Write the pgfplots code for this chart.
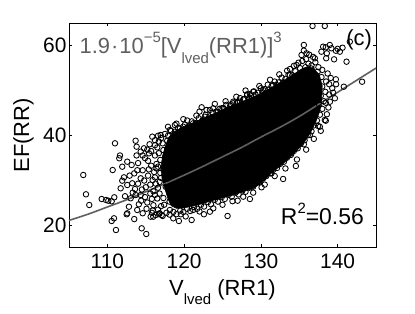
\documentclass[border=0pt]{standalone}
\usepackage{fontspec}
\setmainfont{Liberation Sans}
\usepackage{pgfplots}
\pgfplotsset{compat=1.18}
\usetikzlibrary{calc}
\definecolor{curvegray}{RGB}{95,95,95}
\newcommand{\bigf}{\fontsize{22}{26}\selectfont}
\newcommand{\tickf}{\fontsize{21}{25}\selectfont}
\newcommand{\supf}{\fontsize{15}{17}\selectfont}
\begin{document}
\begin{tikzpicture}
\begin{axis}[name=ax, width=307bp, height=224bp, scale only axis,
 xmin=105, xmax=145, ymin=15, ymax=65,
 xtick={110,120,130,140}, ytick={20,40,60},
 tick align=inside, major tick length=3bp,
 axis line style={line width=0.5bp},
 every tick/.style={black, line width=0.5bp},
 /pgf/number format/assume math mode=true,
 tick label style={font=\tickf},
 xticklabel style={yshift=-3bp},
 yticklabel style={xshift=1bp},
 clip=false,
]
% dense core of the cloud (overlapping markers appear solid black)
\addplot[fill=black, draw=black, line width=0.5bp] coordinates {
(118.0,39.6) (118.8,40.9) (120.0,42.0) (121.2,42.8) (122.3,43.7) (123.4,44.5)
(124.5,45.3) (125.6,46.2) (126.8,47.0) (127.9,47.8) (128.9,48.5) (129.9,49.3)
(130.9,50.2) (131.8,51.1) (132.5,51.8) (133.1,52.4) (133.9,53.2) (134.6,54.0)
(135.3,54.8) (136.0,55.3) (136.8,55.0) (137.6,53.6)
(138.0,51.0) (137.9,48.0) (137.7,45.5)
(137.2,43.2) (136.7,41.3) (136.0,39.3) (135.4,37.9) (134.7,36.6) (134.0,35.5)
(133.0,33.8) (132.2,32.7) (131.4,31.6) (130.7,30.4) (130.1,29.4) (129.4,28.6)
(128.6,27.9) (127.5,27.3) (126.5,26.7) (125.6,26.3) (124.5,25.8) (123.4,25.3)
(122.3,24.7) (121.2,24.2) (120.0,23.8) (119.0,23.7) (118.3,24.3) (117.9,25.8)
(117.5,28.0) (117.1,30.5) (117.0,33.0) (117.2,35.5) (117.6,37.8)
} -- cycle;
% individual measurements
\addplot[only marks, mark=o, mark size=2.75bp, mark options={line width=0.85bp, black}] table {
x y
106.86 31.14
107.21 26.83
107.64 24.44
109.26 25.78
109.82 25.56
110.12 25.40
110.56 25.27
110.90 26.16
110.56 20.87
110.86 21.47
111.12 18.86
110.69 32.25
110.99 38.21
111.55 34.87
111.64 35.50
111.94 32.99
112.16 30.62
111.94 29.87
111.73 28.17
112.51 22.37
112.59 34.11
113.16 33.37
113.68 38.79
113.81 37.46
114.34 36.34
114.77 37.10
115.42 35.98
115.85 39.69
116.94 40.07
118.15 41.18
119.45 41.56
119.88 41.92
121.18 42.68
122.28 46.25
122.93 45.65
123.36 45.65
123.79 46.03
124.88 46.03
122.71 44.15
126.39 47.14
127.27 47.50
128.22 49.15
129.00 49.73
128.57 49.22
130.30 50.11
132.04 51.23
132.90 51.74
133.42 54.42
133.78 53.46
134.65 55.69
135.30 57.92
135.95 58.30
135.60 60.16
136.73 64.40
138.33 64.40
137.03 57.19
137.89 58.66
138.46 59.64
138.11 59.78
138.98 60.16
139.19 59.42
138.59 58.30
138.51 57.19
139.77 58.88
140.00 59.30
140.29 58.66
140.64 59.55
141.16 56.43
141.59 60.89
139.54 56.96
139.77 52.50
139.80 51.40
140.81 50.85
143.19 51.96
139.41 49.51
139.64 48.26
138.46 47.28
138.33 43.42
137.46 42.08
138.46 43.26
137.68 41.92
136.38 40.07
135.60 37.99
134.43 37.10
134.00 35.98
134.56 33.15
132.90 30.25
131.39 31.52
130.09 28.39
129.00 28.53
128.57 25.78
126.97 25.40
125.66 21.99
123.36 22.95
122.58 22.37
121.18 23.33
120.98 21.09
119.57 22.37
119.32 20.87
118.58 21.47
118.15 23.33
117.07 22.21
116.72 22.40
115.98 21.83
115.64 21.83
114.47 19.24
115.07 17.97
112.81 24.06
112.59 22.59
113.89 23.33
113.03 25.94
113.68 26.67
114.34 26.67
112.59 28.91
113.24 29.29
114.34 30.40
113.50 31.50
114.00 33.80
114.60 32.20
114.90 34.90
115.30 31.00
115.00 28.40
114.50 27.90
115.60 27.00
115.20 25.00
114.10 24.60
113.60 28.00
112.90 31.00
113.80 35.50
115.70 33.20
115.90 30.00
116.20 35.50
116.50 37.30
116.00 24.40
116.50 25.90
114.60 22.60
113.50 21.30
114.00 29.20
114.80 29.90
115.20 36.80
114.60 35.50
113.90 32.20
115.40 32.40
115.10 23.60
114.40 25.40
115.80 25.80
113.30 27.20
112.30 26.40
115.50 38.00
116.00 27.50
116.30 29.20
116.10 31.80
116.40 33.60
116.70 36.00
116.80 27.00
117.00 30.50
116.90 34.50
117.20 38.20
117.40 24.50
115.70 36.50
117.30 26.00
117.60 28.50
117.20 32.50
117.50 35.00
117.80 37.00
118.10 25.20
116.60 28.30
116.90 31.60
117.60 33.80
116.40 32.60
117.90 30.40
118.20 36.00
118.00 27.60
116.20 37.80
115.30 34.30
115.60 29.00
114.90 26.20
115.90 23.20
116.60 23.40
116.70 38.60
117.30 36.70
116.80 29.60
116.60 33.00
117.00 24.20
117.80 38.80
116.20 30.60
116.20 26.70
116.20 38.90
116.60 39.90
117.00 39.40
117.50 40.30
117.90 39.90
118.30 41.00
118.80 40.80
119.20 41.60
119.70 41.10
120.10 42.40
120.60 42.00
121.00 43.10
121.50 42.70
121.90 43.80
122.40 43.40
122.80 44.60
123.30 44.20
123.70 45.10
124.20 45.30
124.60 45.90
125.10 46.10
125.50 46.80
126.00 46.60
126.40 47.50
126.90 47.40
127.30 48.30
127.80 48.10
128.20 49.00
128.70 48.90
129.10 49.80
129.60 49.50
130.00 50.50
130.50 50.30
130.90 51.30
131.40 51.00
131.80 52.00
132.30 51.80
132.70 52.90
133.20 52.60
133.60 53.50
134.10 53.40
134.50 54.30
124.40 45.20
125.20 45.90
126.10 46.90
127.00 47.30
127.70 48.00
128.50 48.40
129.30 49.10
130.20 49.60
131.00 50.20
131.60 51.20
119.00 42.60
120.40 43.30
121.60 44.40
122.00 45.30
124.00 47.00
125.40 47.60
126.80 48.60
128.00 50.00
129.80 51.00
131.20 52.40
132.40 53.60
119.90 43.60
117.90 41.90
118.80 42.30
115.80 22.70
116.30 22.20
116.80 22.60
117.20 22.00
117.70 22.70
118.10 22.30
118.60 22.90
119.00 22.40
119.50 23.20
119.90 22.90
120.40 23.60
120.80 23.10
121.30 24.00
121.70 23.60
122.20 24.50
122.60 24.10
123.10 25.10
123.50 24.60
124.00 25.60
124.40 25.20
124.90 26.20
125.30 25.80
125.80 26.70
126.20 26.30
126.70 27.20
127.10 26.80
127.60 27.70
128.00 27.40
128.50 28.30
128.90 28.70
129.40 29.30
129.80 29.60
130.30 30.40
130.70 30.90
131.20 31.50
131.60 32.30
132.10 32.70
132.50 33.60
133.00 34.10
133.40 35.00
133.90 35.60
134.30 36.50
134.80 37.10
135.20 38.10
135.70 38.90
136.10 40.00
136.60 40.90
136.90 42.20
137.30 43.30
120.20 21.90
122.00 23.00
123.80 23.70
125.00 24.50
126.30 25.30
127.70 26.30
129.00 27.20
130.50 29.00
131.80 30.90
133.20 32.60
134.70 34.60
135.90 36.80
136.90 39.20
137.80 41.00
137.70 44.60
138.00 45.90
137.60 46.80
138.20 47.60
137.80 48.80
138.40 49.70
138.00 50.90
138.50 52.00
137.90 53.00
137.40 54.20
136.60 54.90
135.80 55.20
135.10 55.00
133.80 54.80
134.30 55.50
134.90 56.20
135.40 56.60
135.90 57.00
136.20 56.00
136.60 55.60
137.10 56.30
136.80 57.50
136.30 58.00
135.60 58.90
137.50 55.20
138.00 54.60
138.70 53.80
139.10 52.80
138.90 51.40
139.30 50.50
138.90 49.10
139.00 47.50
138.80 46.20
138.60 44.70
};
% fitted curve
\addplot[curvegray, line width=1.6bp, smooth] coordinates {
(105,21.0) (107.5,22.4) (110,24.0) (112.5,25.6) (115,27.4) (117.5,29.2)
(120,31.1) (122.5,33.1) (125,35.2) (127.5,37.3) (130,39.6) (132.5,41.8)
(135,44.2) (137.5,46.9) (140,49.6) (142.5,52.3) (145,55.0)
};
\node[anchor=base west, inner sep=0pt, text=curvegray, font=\bigf] at (rel axis cs:0.034,0.866)
 {1.9\kern1bp·\kern1bp10\raisebox{0.5em}{\supf −5}[V\raisebox{-0.45em}{\supf lved}(RR1)]\raisebox{0.5em}{\supf 3}};
\node[anchor=base east, inner sep=0pt, font=\bigf] at (rel axis cs:0.987,0.903) {(c)};
\node[anchor=base east, inner sep=0pt, font=\fontsize{23}{27}\selectfont] at (rel axis cs:0.961,0.104)
 {R\raisebox{0.45em}{\supf 2}=0.56};
\node[anchor=base, inner sep=0pt, font=\bigf] at (rel axis cs:0.5,-0.213)
 {V\raisebox{-0.45em}{\supf lved} (RR1)};
\node[anchor=base, rotate=90, inner sep=0pt, font=\bigf] at (rel axis cs:-0.130,0.5) {EF(RR)};
\end{axis}
\path ($(ax.south west)+(-69bp,-66bp)$) rectangle ($(ax.north east)+(39bp,23.3bp)$);
\end{tikzpicture}
\end{document}
